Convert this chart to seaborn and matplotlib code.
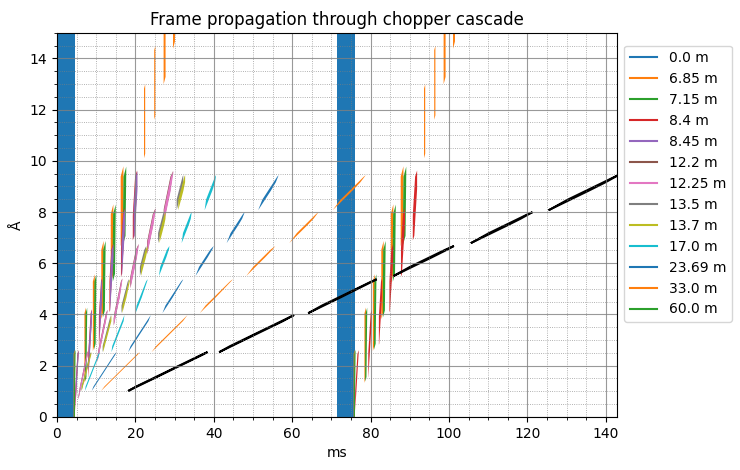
import matplotlib
matplotlib.use('Agg')
import matplotlib.pyplot as plt
import seaborn as sns
from matplotlib.lines import Line2D

# flight time of a neutron, ms per metre per Angstrom
MS_PER_M_AA = 0.252781

# positions of the frames drawn (m)
distances = [0.0, 6.85, 7.15, 8.4, 8.45, 12.2, 12.25, 13.5, 13.7, 17.0, 23.69, 33.0, 60.0]

# source pulses (ms) and wavelength band (Angstrom)
pulse_start = [0.0, 71.43]
pulse_end = [4.7, 76.13]
wavelength_min = 0.0
wavelength_max = 20.0

# chopper openings (ms)
wfm1_open = [4.25, 7.0, 9.15, 11.3, 13.72, 16.25, 22.2, 24.8, 27.2, 29.6,
             75.68, 78.43, 80.58, 82.73, 85.15, 87.68, 93.63, 96.23, 98.63, 101.03]
wfm1_close = [4.55, 7.4, 9.65, 11.9, 14.38, 16.95, 22.5, 25.1, 27.7, 30.1,
              75.98, 78.83, 81.08, 83.33, 85.81, 88.38, 93.93, 96.53, 99.13, 101.53]
wfm2_open = [4.33, 7.19, 9.45, 11.71, 14.24, 16.86, 75.76, 78.62, 80.88, 83.14, 85.67, 88.29]
wfm2_close = [4.75, 7.71, 10.07, 12.42, 14.99, 17.67, 76.18, 79.14, 81.5, 83.85, 86.42, 89.1]
fol1a_open = [4.64, 7.98, 10.69, 13.38, 16.32, 19.34, 76.07, 79.41, 82.12, 84.81, 87.75, 90.77]
fol1a_close = [5.54, 8.92, 11.48, 14.34, 17.34, 20.44, 76.97, 80.35, 82.91, 85.77, 88.77, 91.87]
fol1b_open = [4.72, 8.09, 10.82, 13.54, 16.48, 19.55]
fol1b_close = [5.53, 8.94, 11.62, 14.43, 17.41, 20.52]
fol2a_open = [5.48, 10.31, 14.47, 18.7, 22.98, 27.22]
fol2a_close = [8.12, 12.88, 17.04, 21.03, 25.18, 29.65]
fol2b_open = [5.49, 10.34, 14.52, 18.77, 23.06, 27.32]
fol2b_close = [8.15, 12.93, 17.11, 21.11, 25.28, 29.77]
fol3a_open = [6.25, 11.65, 16.46, 21.15, 25.79, 30.52]
fol3a_close = [8.64, 13.69, 18.35, 22.78, 27.29, 32.22]
fol3b_open = [6.15, 11.58, 16.27, 21.04, 25.81, 30.57]
fol3b_close = [8.92, 14.16, 18.92, 23.43, 28.02, 33.05]

choppers = {
    6.85: (wfm1_open, wfm1_close),
    7.15: (wfm2_open, wfm2_close),
    8.4: (fol1a_open, fol1a_close),
    8.45: (fol1b_open, fol1b_close),
    12.2: (fol2a_open, fol2a_close),
    12.25: (fol2b_open, fol2b_close),
    13.5: (fol3a_open, fol3a_close),
    13.7: (fol3b_open, fol3b_close),
}


def clip(poly, t_cut, keep_right):
    # cut a polygon in (time, wavelength) with a vertical line
    out = []
    n = len(poly)
    for i in range(n):
        p, q = poly[i], poly[(i + 1) % n]
        p_in = p[0] >= t_cut if keep_right else p[0] <= t_cut
        q_in = q[0] >= t_cut if keep_right else q[0] <= t_cut
        if p_in:
            out.append(p)
        if p_in != q_in:
            f = (t_cut - p[0]) / (q[0] - p[0])
            out.append((t_cut, p[1] + f * (q[1] - p[1])))
    return out


def area(poly):
    s = 0.0
    for i in range(len(poly)):
        x1, y1 = poly[i]
        x2, y2 = poly[(i + 1) % len(poly)]
        s += x1 * y2 - x2 * y1
    return abs(s) / 2


# propagate the source pulses through the cascade
subframes = [[(t0, wavelength_min), (t1, wavelength_min), (t1, wavelength_max), (t0, wavelength_max)]
             for t0, t1 in zip(pulse_start, pulse_end)]
frames = []
pos = 0.0
for d in distances:
    subframes = [[(t + MS_PER_M_AA * (d - pos) * lam, lam) for t, lam in poly] for poly in subframes]
    pos = d
    if d in choppers:
        opens, closes = choppers[d]
        kept = []
        for poly in subframes:
            for a, b in zip(opens, closes):
                p = clip(clip(poly, a, True), b, False)
                if len(p) >= 3 and area(p) > 1e-9:
                    kept.append(p)
        subframes = kept
    frames.append(subframes)

palette = sns.color_palette('tab10')

fig, ax = plt.subplots(figsize=(7.4, 4.7), dpi=100)
fig.subplots_adjust(left=0.077, right=0.834, top=0.930, bottom=0.113)

handles = []
for i, (d, subs) in enumerate(zip(distances, frames)):
    color = palette[i % 10]
    for poly in subs:
        ts = [p[0] for p in poly]
        ls = [p[1] for p in poly]
        if d == distances[-1]:
            ax.fill(ts, ls, facecolor='black', edgecolor='black', linewidth=1.4)
        else:
            ax.fill(ts, ls, color=color, linewidth=0)
    handles.append(Line2D([0], [0], color=color, lw=1.5))

ax.set_xlim(0, 142.9)
ax.set_ylim(0, 15)
ax.minorticks_on()
ax.grid(which='major', color='gray', linestyle='-', linewidth=0.8, alpha=0.8)
ax.grid(which='minor', color='gray', linestyle=':', linewidth=0.6, alpha=0.8)
ax.set_xlabel('ms')
ax.set_ylabel('Å')
ax.set_title('Frame propagation through chopper cascade')
ax.legend(handles, [f'{d} m' for d in distances], loc='upper left', bbox_to_anchor=(1.0, 0.985))

fig.savefig('out.png', dpi=100)
